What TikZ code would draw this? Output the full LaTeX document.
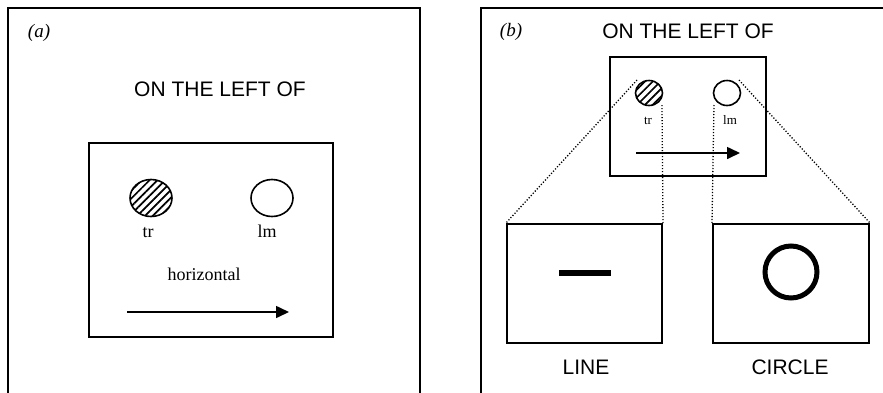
\documentclass[tikz,border=0pt]{standalone}
\usepackage{fontspec}
\setmainfont{Liberation Serif}
\setsansfont{Liberation Sans}
\usetikzlibrary{shapes.geometric,arrows.meta,patterns.meta}
\begin{document}
\begin{tikzpicture}[x=1pt,y=-1pt,
  frame/.style={draw, line width=2.2pt},
  panelbox/.style={draw, line width=2pt, inner sep=0pt},
  blob/.style={draw, ellipse, line width=1.6pt, inner sep=0pt},
  hatch/.style={pattern={Lines[angle=45,distance=5.5pt,line width=1.7pt]}},
  bigtext/.style={font=\fontsize{21}{24}\selectfont\sffamily, anchor=base},
  tag/.style={font=\fontsize{19}{22}\selectfont\itshape},
  lab/.style={font=\fontsize{18}{21}\selectfont, anchor=base},
  smalllab/.style={font=\fontsize{13}{15}\selectfont, anchor=base},
  dir/.style={line width=1.6pt, -{Triangle[length=13pt,width=12pt]}},
  proj/.style={line width=1.3pt, dash pattern=on 1.2pt off 1.8pt}
]
\useasboundingbox (0,0) rectangle (883,392);
\fill[white] (0,0) rectangle (883,392);
\begin{scope}
\clip (0,0) rectangle (883,392);
\draw[frame] (8,8) rectangle (420,402);
\draw[frame] (481,8) rectangle (895,402);
\end{scope}

% ---- panel (a)
\node[tag] (taga) at (39,33) {(a)};
\node[bigtext] (titlea) at (220,96) {ON THE LEFT OF};
\node[panelbox, minimum width=244pt, minimum height=194pt] (boxa) at (211,240) {};
\node[blob, hatch, minimum width=42pt, minimum height=37pt] (tra) at (151,198) {};
\node[blob, minimum width=42pt, minimum height=37pt] (lma) at (272,198) {};
\node[lab] (trla) at (148,237) {tr};
\node[lab] (lmla) at (267,237) {lm};
\node[lab] (hor) at (204,280) {horizontal};
\coordinate (a1) at (127,312);
\coordinate (a2) at (289,312);
\draw[dir] (a1) -- (a2);

% ---- panel (b)
\node[tag] (tagb) at (511,32) {(b)};
\node[bigtext] (titleb) at (688,38.5) {ON THE LEFT OF};
\node[panelbox, minimum width=156pt, minimum height=119pt] (boxb) at (688,116.5) {};
\node[blob, hatch, minimum width=27pt, minimum height=25pt] (trb) at (649,93) {};
\node[blob, minimum width=27pt, minimum height=25pt] (lmb) at (727,93) {};
\node[smalllab] (trlb) at (648,124.5) {tr};
\node[smalllab] (lmlb) at (730,124.5) {lm};
\coordinate (b1) at (636,153);
\coordinate (b2) at (740,153);
\draw[dir] (b1) -- (b2);

\node[panelbox, minimum width=155pt, minimum height=119pt] (linebox) at (584.5,283.5) {};
\node[panelbox, minimum width=156pt, minimum height=119pt] (circbox) at (791,283.5) {};
\draw[line width=6pt] (559,273) -- (611,273);
\draw[line width=5pt] (791,272) circle (26pt);
\node[bigtext] (linel) at (586,374) {LINE};
\node[bigtext] (circl) at (790,374) {CIRCLE};

\coordinate (p1) at (637,80);
\coordinate (p2) at (662,105);
\coordinate (p3) at (714,105);
\coordinate (p4) at (739,80);
\draw[proj] (p1) -- (linebox.north west);
\draw[proj] (p2) -- (linebox.north east);
\draw[proj] (p3) -- (circbox.north west);
\draw[proj] (p4) -- (circbox.north east);
\end{tikzpicture}
\end{document}
